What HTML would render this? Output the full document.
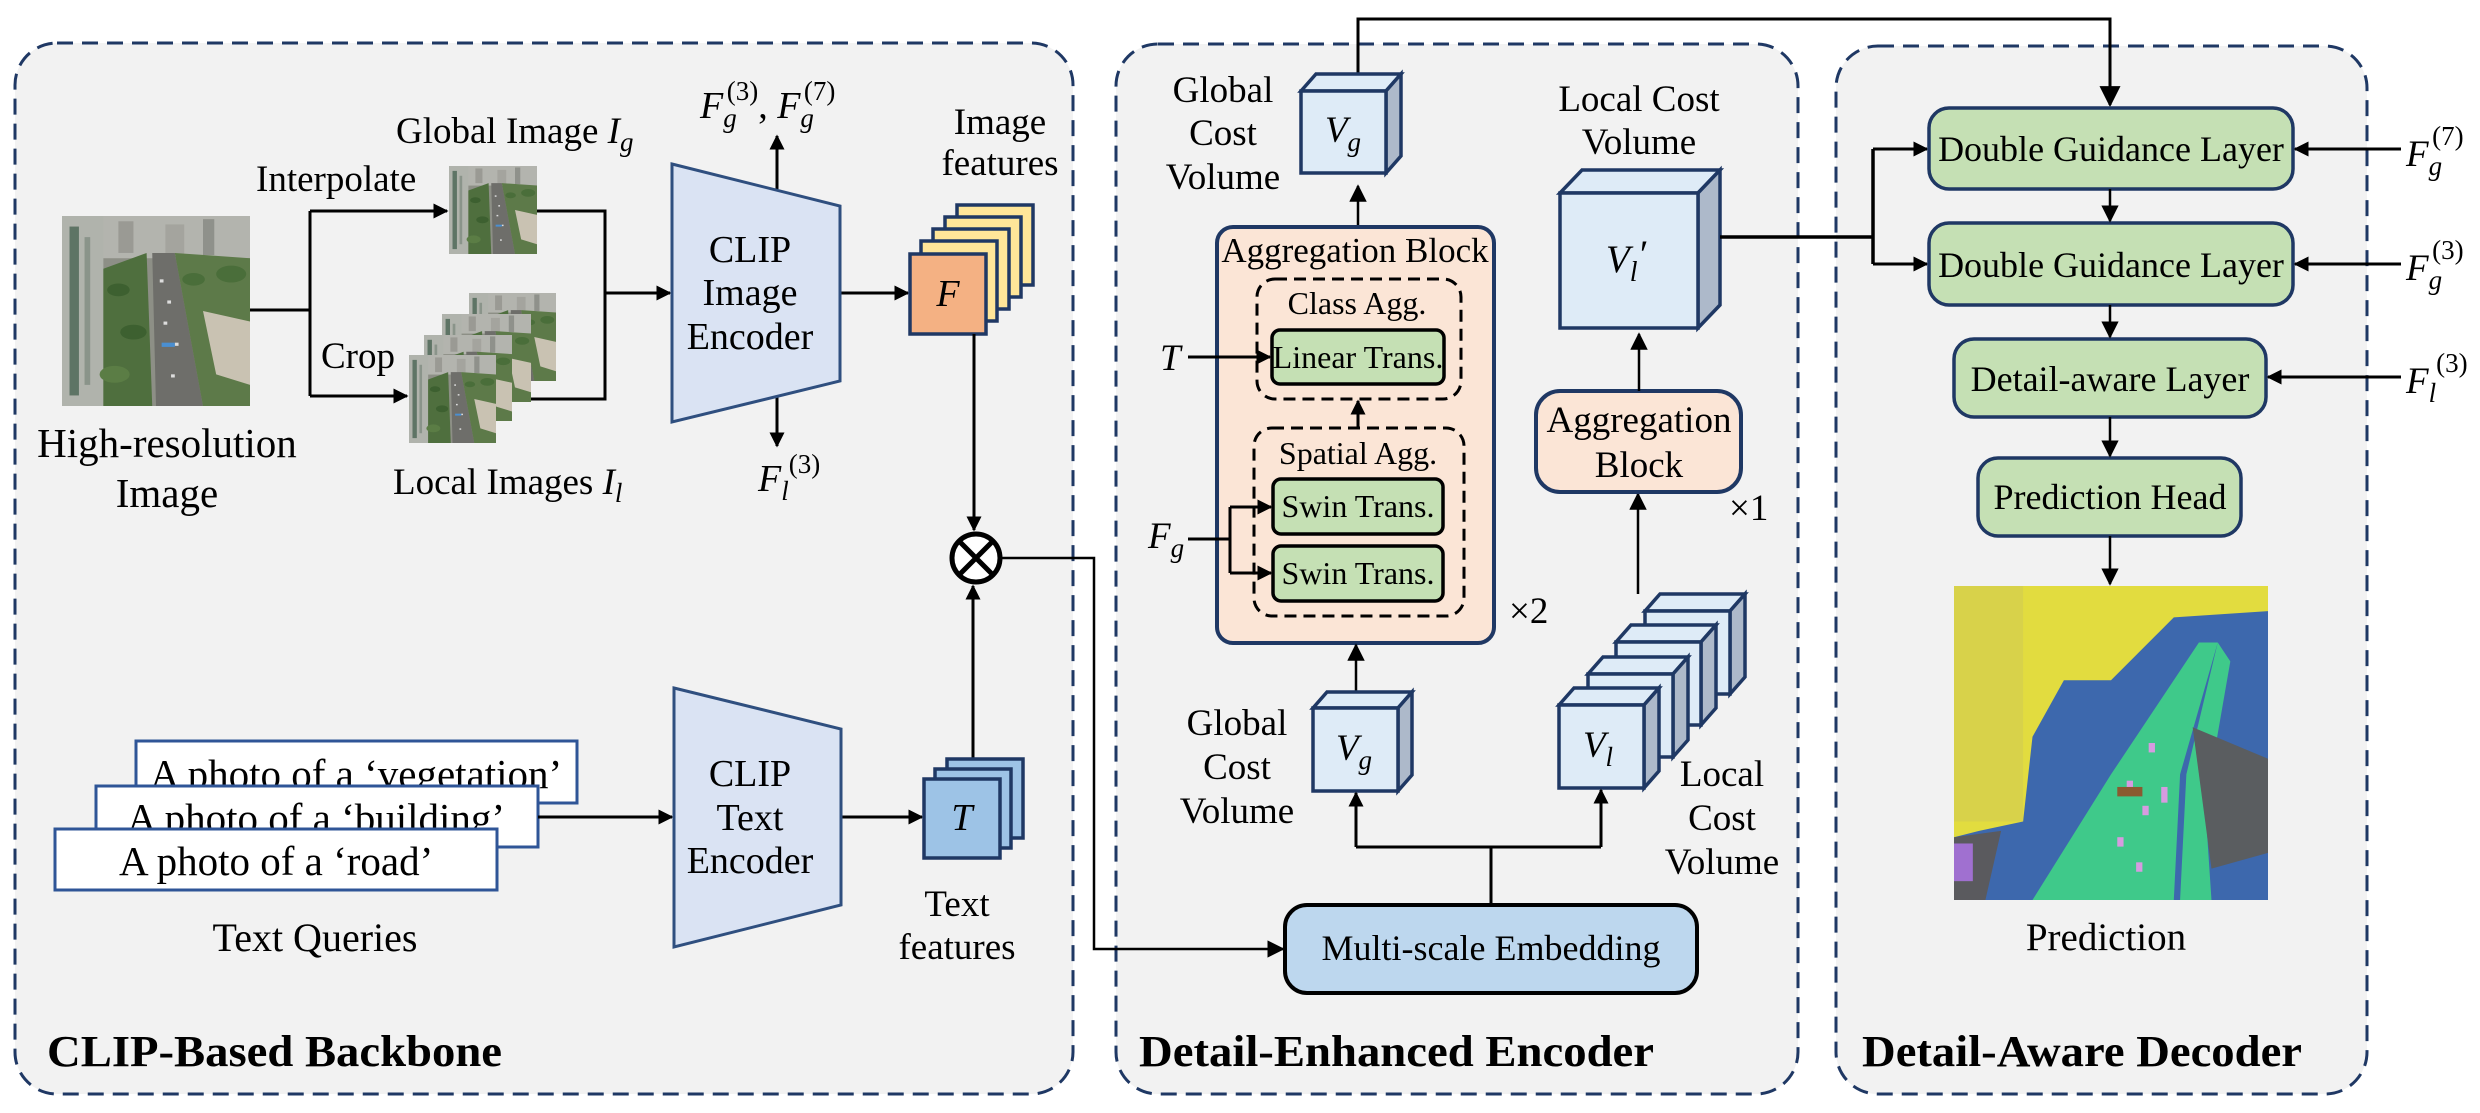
<!DOCTYPE html>
<html><head><meta charset="utf-8"><style>
html,body{margin:0;padding:0;background:#fff;}
svg{display:block;}
text{font-family:"Liberation Serif","DejaVu Serif",serif;fill:#000;}
.c{text-anchor:middle;}
.i{font-style:italic;}
.b{font-weight:bold;}
</style></head><body>
<svg width="2480" height="1113" viewBox="0 0 2480 1113" xmlns="http://www.w3.org/2000/svg" font-family="'Liberation Serif', 'DejaVu Serif', serif">
<defs>
<marker id="a" viewBox="0 0 10 10" refX="9" refY="5" markerWidth="5" markerHeight="5" orient="auto" markerUnits="strokeWidth"><path d="M0,0 L10,5 L0,10 z" fill="#000"/></marker>
<marker id="as" viewBox="0 0 10 10" refX="9" refY="5" markerWidth="7" markerHeight="7" orient="auto" markerUnits="strokeWidth"><path d="M0,0 L10,5 L0,10 z" fill="#000"/></marker>
<symbol id="photo" viewBox="0 0 100 180" preserveAspectRatio="none">
<rect width="100" height="180" fill="#8d8f86"/>
<rect width="100" height="40" fill="#b3b4ae"/>
<rect x="30" y="5" width="8" height="30" fill="#9a9a94"/><rect x="55" y="8" width="10" height="28" fill="#a4a49e"/><rect x="75" y="3" width="6" height="34" fill="#8f918b"/>
<rect x="0" y="0" width="22" height="180" fill="#b0b3ac"/>
<rect x="4" y="10" width="5" height="160" fill="#5e7465"/>
<rect x="12" y="20" width="3" height="140" fill="#8a948a"/>
<path d="M22,50 L45,35 L48,180 L22,180 z" fill="#4f6f3e"/>
<circle cx="30" cy="70" r="6" fill="#3d6030"/><circle cx="38" cy="110" r="7" fill="#3d6030"/><circle cx="28" cy="150" r="8" fill="#5b7d45"/>
<path d="M48,35 L60,35 L75,180 L50,180 z" fill="#6e6e6a"/>
<g fill="#ddd"><rect x="52" y="60" width="2" height="3"/><rect x="56" y="80" width="2" height="3"/><rect x="54" y="100" width="2" height="3"/><rect x="60" y="120" width="2" height="3"/><rect x="58" y="150" width="2" height="3"/></g>
<path d="M60,35 L100,40 L100,180 L75,180 z" fill="#5d7a49"/>
<circle cx="70" cy="60" r="6" fill="#4a6e3a"/><circle cx="90" cy="55" r="8" fill="#4a6e3a"/>
<path d="M75,90 L100,100 L100,160 L82,150 z" fill="#c9c2b2"/>
<rect x="53" y="120" width="7" height="4" fill="#4a8fd1"/>
</symbol>
</defs>

<!-- panels -->
<g fill="#f2f2f2" stroke="#1f3864" stroke-width="3" stroke-dasharray="16 9">
<rect x="15" y="43" width="1058" height="1051" rx="42"/>
<rect x="1116" y="44" width="682" height="1050" rx="42"/>
<rect x="1836" y="46" width="531" height="1048" rx="42"/>
</g>
<text class="b" x="47" y="1066" font-size="44" textLength="455" lengthAdjust="spacingAndGlyphs">CLIP-Based Backbone</text>
<text class="b" x="1139" y="1066" font-size="44" textLength="515" lengthAdjust="spacingAndGlyphs">Detail-Enhanced Encoder</text>
<text class="b" x="1862" y="1066" font-size="44" textLength="440" lengthAdjust="spacingAndGlyphs">Detail-Aware Decoder</text>

<!-- ===== Panel 1 ===== -->
<use href="#photo" x="62" y="216" width="188" height="190"/>
<text class="c" x="167" y="457" font-size="41">High-resolution</text>
<text class="c" x="167" y="507" font-size="41">Image</text>

<g stroke="#000" stroke-width="3" fill="none">
<path d="M250,310 H310"/>
<path d="M310,211 V396"/>
<path d="M310,211 H447" marker-end="url(#a)"/>
<path d="M310,396 H407" marker-end="url(#a)"/>
<path d="M537,211 H605 V399 H531"/>
<path d="M605,293 H670" marker-end="url(#a)"/>
<path d="M840,293 H908" marker-end="url(#a)"/>
<path d="M777,189 V136" marker-end="url(#a)"/>
<path d="M777,396 V446" marker-end="url(#a)"/>
</g>
<text x="256" y="191" font-size="37">Interpolate</text>
<text x="321" y="368" font-size="37">Crop</text>
<use href="#photo" x="449" y="166" width="88" height="88"/>
<text x="396" y="143" font-size="37">Global Image <tspan class="i">I</tspan><tspan class="i" font-size="27" dy="8">g</tspan></text>
<use href="#photo" x="469" y="293" width="87" height="88"/>
<use href="#photo" x="442" y="314" width="89" height="88"/>
<use href="#photo" x="424" y="335" width="88" height="86"/>
<use href="#photo" x="409" y="355" width="87" height="88"/>
<text x="393" y="494" font-size="37">Local Images <tspan class="i">I</tspan><tspan class="i" font-size="27" dy="8">l</tspan></text>

<polygon points="672,164 840,206 840,381 672,422" fill="#dae3f3" stroke="#2f4f7f" stroke-width="3"/>
<text class="c" x="750" y="262" font-size="38">CLIP</text>
<text class="c" x="750" y="305" font-size="38">Image</text>
<text class="c" x="750" y="349" font-size="38">Encoder</text>

<text x="700" y="118" font-size="38"><tspan class="i">F</tspan><tspan class="i" font-size="27" dy="9">g</tspan><tspan font-size="27" dx="-10" dy="-27">(3)</tspan><tspan dy="18">, </tspan><tspan class="i">F</tspan><tspan class="i" font-size="27" dy="9">g</tspan><tspan font-size="27" dx="-10" dy="-27">(7)</tspan></text>
<text x="758" y="491" font-size="38"><tspan class="i">F</tspan><tspan class="i" font-size="27" dy="9">l</tspan><tspan font-size="27" dx="0" dy="-27">(3)</tspan></text>

<g stroke="#1f3864" stroke-width="3.5">
<rect x="957" y="205" width="76" height="80" fill="#ffe699"/>
<rect x="945" y="217" width="76" height="80" fill="#ffe699"/>
<rect x="933" y="229" width="76" height="80" fill="#ffe699"/>
<rect x="921" y="241" width="76" height="80" fill="#ffe699"/>
<rect x="910" y="254" width="76" height="80" fill="#f4b183"/>
</g>
<text class="c i" x="948" y="306" font-size="38">F</text>
<text class="c" x="1000" y="134" font-size="37">Image</text>
<text class="c" x="1000" y="175" font-size="37">features</text>

<g stroke="#000" stroke-width="3" fill="none">
<path d="M974,334 V530" marker-end="url(#a)"/>
<path d="M973,759 V586" marker-end="url(#a)"/>
<path d="M1002,558 H1094 V949 H1283" stroke-width="2.5" marker-end="url(#as)"/>
</g>
<circle cx="976" cy="558" r="24" fill="#fff" stroke="#000" stroke-width="5"/>
<path d="M959,541 L993,575 M993,541 L959,575" stroke="#000" stroke-width="5"/>

<!-- text queries -->
<rect x="136" y="741" width="441" height="62" fill="#fff" stroke="#2f5597" stroke-width="3"/>
<text x="150" y="788" font-size="41">A photo of a ‘vegetation’</text>
<rect x="96" y="786" width="442" height="61" fill="#fff" stroke="#2f5597" stroke-width="3"/>
<text x="127" y="832" font-size="41">A photo of a ‘building’</text>
<rect x="55" y="829" width="442" height="61" fill="#fff" stroke="#2f5597" stroke-width="3"/>
<text x="119" y="875" font-size="41">A photo of a ‘road’</text>
<text class="c" x="315" y="951" font-size="40">Text Queries</text>

<g stroke="#000" stroke-width="3" fill="none">
<path d="M538,817 H672" marker-end="url(#a)"/>
<path d="M841,817 H922" marker-end="url(#a)"/>
</g>
<polygon points="674,688 841,729 841,905 674,947" fill="#dae3f3" stroke="#2f4f7f" stroke-width="3"/>
<text class="c" x="750" y="786" font-size="38">CLIP</text>
<text class="c" x="750" y="830" font-size="38">Text</text>
<text class="c" x="750" y="873" font-size="38">Encoder</text>
<g stroke="#1f3864" stroke-width="3.5" fill="#9dc3e6">
<rect x="947" y="759" width="76" height="79"/>
<rect x="935" y="769" width="76" height="79"/>
<rect x="924" y="779" width="76" height="79"/>
</g>
<text class="c i" x="962" y="830" font-size="38">T</text>
<text class="c" x="957" y="916" font-size="37">Text</text>
<text class="c" x="957" y="959" font-size="37">features</text>

<!-- ===== Panel 2 ===== -->
<path d="M1358,75 V19 H2110 V105" stroke="#000" stroke-width="3" fill="none" marker-end="url(#as)"/>

<g stroke="#1f3864" stroke-width="3.5">
<polygon points="1301,91 1316,74 1401,74 1386,91" fill="#deebf7"/>
<polygon points="1386,91 1401,74 1401,156 1386,173" fill="#adb9ca"/>
<rect x="1301" y="91" width="85" height="82" fill="#deebf7"/>
</g>
<text class="c i" x="1343" y="142" font-size="37">V<tspan font-size="27" dy="9">g</tspan></text>
<text class="c" x="1223" y="102" font-size="37">Global</text>
<text class="c" x="1223" y="145" font-size="37">Cost</text>
<text class="c" x="1223" y="189" font-size="37">Volume</text>

<path d="M1358,227 V186" stroke="#000" stroke-width="2.5" fill="none" marker-end="url(#as)"/>

<rect x="1217" y="227" width="277" height="416" rx="16" fill="#fbe5d6" stroke="#1f3864" stroke-width="4"/>
<text class="c" x="1355" y="262" font-size="35">Aggregation Block</text>
<rect x="1257" y="279" width="204" height="120" rx="18" fill="none" stroke="#000" stroke-width="3" stroke-dasharray="12 7"/>
<text class="c" x="1357" y="314" font-size="32">Class Agg.</text>
<rect x="1272" y="330" width="172" height="54" rx="8" fill="#c5e0b4" stroke="#000" stroke-width="3.5"/>
<text class="c" x="1358" y="368" font-size="32">Linear Trans.</text>
<text class="i" x="1160" y="370" font-size="37">T</text>
<path d="M1188,357 H1270" stroke="#000" stroke-width="3" fill="none" marker-end="url(#a)"/>
<path d="M1358,428 V401" stroke="#000" stroke-width="3" fill="none" marker-end="url(#a)"/>
<rect x="1254" y="428" width="210" height="188" rx="18" fill="none" stroke="#000" stroke-width="3" stroke-dasharray="12 7"/>
<text class="c" x="1358" y="464" font-size="32">Spatial Agg.</text>
<rect x="1273" y="479" width="170" height="55" rx="8" fill="#c5e0b4" stroke="#000" stroke-width="3.5"/>
<text class="c" x="1358" y="517" font-size="32">Swin Trans.</text>
<rect x="1273" y="546" width="170" height="55" rx="8" fill="#c5e0b4" stroke="#000" stroke-width="3.5"/>
<text class="c" x="1358" y="584" font-size="32">Swin Trans.</text>
<text class="i" x="1148" y="548" font-size="37">F<tspan font-size="27" dy="9">g</tspan></text>
<path d="M1188,539 H1230 M1230,507 V573" stroke="#000" stroke-width="3" fill="none"/>
<path d="M1230,507 H1271" stroke="#000" stroke-width="3" fill="none" marker-end="url(#a)"/>
<path d="M1230,573 H1271" stroke="#000" stroke-width="3" fill="none" marker-end="url(#a)"/>
<text x="1509" y="623" font-size="37">×2</text>

<path d="M1356,692 V645" stroke="#000" stroke-width="2.5" fill="none" marker-end="url(#as)"/>
<g stroke="#1f3864" stroke-width="3.5">
<polygon points="1313,708 1327,692 1412,692 1398,708" fill="#deebf7"/>
<polygon points="1398,708 1412,692 1412,775 1398,791" fill="#adb9ca"/>
<rect x="1313" y="708" width="85" height="83" fill="#deebf7"/>
</g>
<text class="c i" x="1354" y="760" font-size="37">V<tspan font-size="27" dy="9">g</tspan></text>
<text class="c" x="1237" y="735" font-size="37">Global</text>
<text class="c" x="1237" y="779" font-size="37">Cost</text>
<text class="c" x="1237" y="823" font-size="37">Volume</text>

<g stroke="#1f3864" stroke-width="3.5">
<polygon points="1645,611 1660,594 1745,594 1730,611" fill="#deebf7"/>
<polygon points="1730,611 1745,594 1745,677 1730,694" fill="#adb9ca"/>
<rect x="1645" y="611" width="85" height="83" fill="#deebf7"/>
<polygon points="1616,642 1631,625 1716,625 1701,642" fill="#deebf7"/>
<polygon points="1701,642 1716,625 1716,708 1701,725" fill="#adb9ca"/>
<rect x="1616" y="642" width="85" height="83" fill="#deebf7"/>
<polygon points="1588,674 1603,657 1688,657 1673,674" fill="#deebf7"/>
<polygon points="1673,674 1688,657 1688,740 1673,757" fill="#adb9ca"/>
<rect x="1588" y="674" width="85" height="83" fill="#deebf7"/>
<polygon points="1559,705 1574,688 1659,688 1644,705" fill="#deebf7"/>
<polygon points="1644,705 1659,688 1659,771 1644,788" fill="#adb9ca"/>
<rect x="1559" y="705" width="85" height="83" fill="#deebf7"/>
</g>
<text class="c i" x="1598" y="757" font-size="37">V<tspan font-size="27" dy="9">l</tspan></text>
<text class="c" x="1722" y="786" font-size="37">Local</text>
<text class="c" x="1722" y="830" font-size="37">Cost</text>
<text class="c" x="1722" y="874" font-size="37">Volume</text>

<path d="M1638,594 V494" stroke="#000" stroke-width="2.5" fill="none" marker-end="url(#as)"/>
<rect x="1536" y="391" width="205" height="101" rx="24" fill="#fbe5d6" stroke="#1f3864" stroke-width="4"/>
<text class="c" x="1639" y="432" font-size="37">Aggregation</text>
<text class="c" x="1639" y="477" font-size="37">Block</text>
<text x="1729" y="520" font-size="37">×1</text>
<path d="M1639,391 V334" stroke="#000" stroke-width="2.5" fill="none" marker-end="url(#as)"/>

<g stroke="#1f3864" stroke-width="3.5">
<polygon points="1560,193 1582,170 1720,170 1698,193" fill="#deebf7"/>
<polygon points="1698,193 1720,170 1720,305 1698,328" fill="#adb9ca"/>
<rect x="1560" y="193" width="138" height="135" fill="#deebf7"/>
</g>
<text class="c i" x="1626" y="272" font-size="39">V<tspan font-size="28" dy="9">l</tspan><tspan dy="-14">′</tspan></text>
<text class="c" x="1639" y="111" font-size="37">Local Cost</text>
<text class="c" x="1639" y="154" font-size="37">Volume</text>

<path d="M1491,905 V847 M1356,847 H1601" stroke="#000" stroke-width="3" fill="none"/>
<path d="M1356,847 V793" stroke="#000" stroke-width="3" fill="none" marker-end="url(#a)"/>
<path d="M1601,847 V790" stroke="#000" stroke-width="3" fill="none" marker-end="url(#a)"/>
<rect x="1285" y="905" width="412" height="88" rx="22" fill="#bdd7ee" stroke="#000" stroke-width="4"/>
<text class="c" x="1491" y="960" font-size="36">Multi-scale Embedding</text>

<path d="M1720,237 H1873 M1873,149 V264" stroke="#000" stroke-width="3.5" fill="none"/>
<path d="M1873,149 H1927" stroke="#000" stroke-width="3" fill="none" marker-end="url(#a)"/>
<path d="M1873,264 H1927" stroke="#000" stroke-width="3" fill="none" marker-end="url(#a)"/>

<!-- ===== Panel 3 ===== -->
<g fill="#c5e0b4" stroke="#1f3864" stroke-width="3.5">
<rect x="1929" y="108" width="364" height="81" rx="20"/>
<rect x="1929" y="223" width="364" height="82" rx="20"/>
<rect x="1954" y="339" width="312" height="78" rx="20"/>
<rect x="1978" y="458" width="263" height="78" rx="20"/>
</g>
<text class="c" x="2111" y="161" font-size="36">Double Guidance Layer</text>
<text class="c" x="2111" y="277" font-size="36">Double Guidance Layer</text>
<text class="c" x="2110" y="391" font-size="36">Detail-aware Layer</text>
<text class="c" x="2110" y="509" font-size="36">Prediction Head</text>
<g stroke="#000" stroke-width="2.5" fill="none">
<path d="M2110,189 V221" marker-end="url(#as)"/>
<path d="M2110,305 V337" marker-end="url(#as)"/>
<path d="M2110,417 V456" marker-end="url(#as)"/>
<path d="M2110,536 V584" marker-end="url(#as)"/>
</g>
<g stroke="#000" stroke-width="3" fill="none">
<path d="M2401,149 H2295" marker-end="url(#a)"/>
<path d="M2401,264 H2295" marker-end="url(#a)"/>
<path d="M2401,377 H2268" marker-end="url(#a)"/>
</g>
<text class="i" x="2406" y="166" font-size="37">F<tspan font-size="27" dy="9">g</tspan><tspan font-style="normal" font-size="27" dx="-10" dy="-30">(7)</tspan></text>
<text class="i" x="2406" y="280" font-size="37">F<tspan font-size="27" dy="9">g</tspan><tspan font-style="normal" font-size="27" dx="-10" dy="-30">(3)</tspan></text>
<text class="i" x="2406" y="393" font-size="37">F<tspan font-size="27" dy="9">l</tspan><tspan font-style="normal" font-size="27" dx="0" dy="-30">(3)</tspan></text>

<svg x="1954" y="586" width="314" height="314" viewBox="0 0 100 100" preserveAspectRatio="none">
<rect width="100" height="100" fill="#3d68ad"/>
<path d="M0,0 L100,0 L100,8 L70,10 L50,30 L35,30 L25,48 L22,75 L8,78 L0,80 z" fill="#e2dc3f"/>
<rect x="0" y="0" width="22" height="75" fill="#d8d24a"/>
<path d="M78,18 L84,18 L72,60 L70,100 L25,100 L50,60 z" fill="#3fc98a"/>
<path d="M84,18 L88,24 L80,70 L82,100 L72,100 L74,60 z" fill="#3fc98a"/>
<path d="M76,45 L100,55 L100,85 L82,90 z" fill="#5a5d60"/>
<path d="M0,80 L15,78 L10,100 L0,100 z" fill="#5a5a5e"/>
<rect x="0" y="82" width="6" height="12" fill="#a070d0"/>
<g fill="#d69be0"><rect x="55" y="62" width="2" height="3"/><rect x="60" y="70" width="2" height="3"/><rect x="52" y="80" width="2" height="3"/><rect x="58" y="88" width="2" height="3"/><rect x="66" y="64" width="2" height="5"/><rect x="62" y="50" width="2" height="3"/></g>
<rect x="52" y="64" width="8" height="3" fill="#8a5a30"/>
</svg>
<text class="c" x="2106" y="950" font-size="39">Prediction</text>
</svg>
</body></html>
